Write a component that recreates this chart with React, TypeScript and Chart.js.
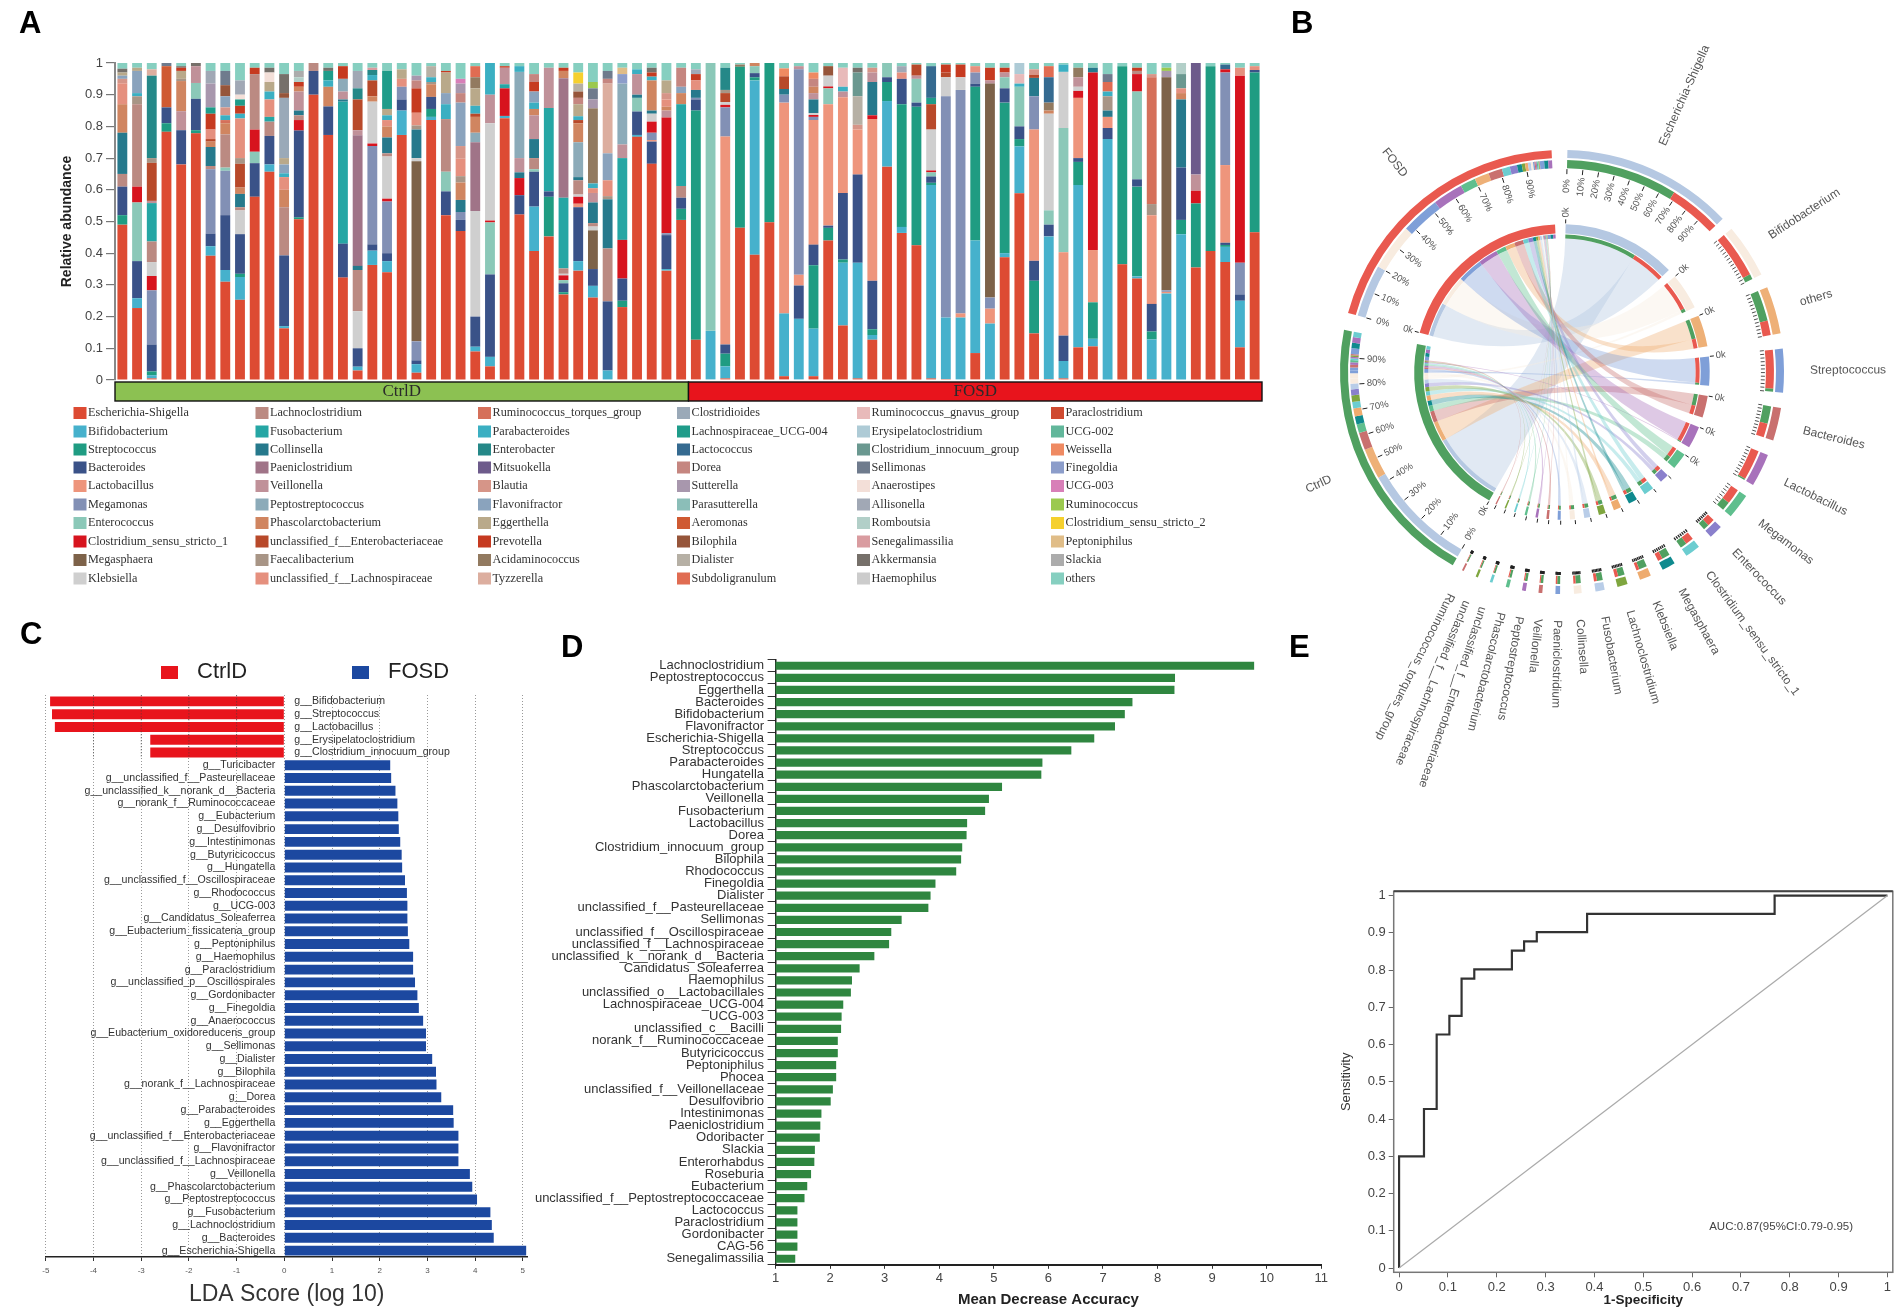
import React, { useEffect, useRef } from "react";
import { Chart, registerables } from "chart.js";
Chart.register(...registerables);
Chart.defaults.font.family = "'Liberation Sans', Arial, sans-serif";

// ---------- Panel A: taxa (legend order = stacking order) ----------
const taxaNames = ["Escherichia-Shigella","Bifidobacterium","Streptococcus","Bacteroides","Lactobacillus","Megamonas","Enterococcus","Clostridium_sensu_stricto_1","Megasphaera","Klebsiella",
"Lachnoclostridium","Fusobacterium","Collinsella","Paeniclostridium","Veillonella","Peptostreptococcus","Phascolarctobacterium","unclassified_f__Enterobacteriaceae","Faecalibacterium","unclassified_f__Lachnospiraceae",
"Ruminococcus_torques_group","Parabacteroides","Enterobacter","Mitsuokella","Blautia","Flavonifractor","Eggerthella","Prevotella","Acidaminococcus","Tyzzerella",
"Clostridioides","Lachnospiraceae_UCG-004","Lactococcus","Dorea","Sutterella","Parasutterella","Aeromonas","Bilophila","Dialister","Subdoligranulum",
"Ruminococcus_gnavus_group","Erysipelatoclostridium","Clostridium_innocuum_group","Sellimonas","Anaerostipes","Allisonella","Romboutsia","Senegalimassilia","Akkermansia","Haemophilus",
"Paraclostridium","UCG-002","Weissella","Finegoldia","UCG-003","Ruminococcus","Clostridium_sensu_stricto_2","Peptoniphilus","Slackia","others"];
const taxaColors = ["#dd4b33","#46b1cc","#1f9c82","#3a5288","#ee957c","#8290b5","#8bc8b8","#d7141e","#7d6249","#cfcfcf",
"#bb8a82","#25a6a4","#26798c","#a07488","#c09199","#8cabb9","#d08560","#b8492a","#a89586","#e5907e",
"#d5705a","#3bafc2","#258888","#6d5b8b","#d69588","#8aa3bd","#b9a98a","#c63a20","#927a60","#dcae9f",
"#9aa9b8","#1f9c8a","#356a90","#c58680","#a897ad","#8bbeb8","#cf5a32","#96553a","#b6b0a5","#e06c52",
"#e8baba","#aecbd6","#6a9890","#6f7b8d","#f3dfd8","#a1a8b5","#b2cfc8","#d99ca0","#76706a","#cccccc",
"#cf4a30","#62b79b","#ef8a62","#8c9dca","#d87fb8","#9bc94f","#f5d02e","#e0bd88","#acacac","#86cfc0"];
const E=0,Bi=1,St=2,Ba=3,La=4,Mg=5,En=6,C1=7,Mp=8,Kl=9,Lc=10,Fu=11,Co=12,Pn=13,Ve=14,Pe=15,Ph=16,Ue=17,Fa=18,Ul=19,Rt=20,Pb=21,Eb=22,Mi=23,Bl=24,Fl=25,Eg=26,Pv=27,Ac=28,Ty=29,Cd=30,L4=31,Lo=32,Do=33,Su=34,Ao=36,Bp=37,Di=38,Ss=39,Rg=40,Er=41,Ci=42,Se=43,An=44,Al=45,Ro=46,Sg=47,Ak=48,We=52,Fi=53,U3=54,Ru=55,C2=56,Pt=57,Sl=58,Ot=59;

// each sample: [taxon, upper edge of its band read off the y axis]
const s01=[[E,.49],[St,.52],[Ba,.61],[Lc,.65],[Co,.78],[Ph,.87],[Ul,.936],[Bl,.95],[Fl,.96],[Eg,.97],[Ak,.982],[Ot,1]];
const s02=[[E,.227],[Bi,.258],[Ba,.375],[En,.56],[C1,.61],[Lc,.87],[Fa,.895],[Pb,.905],[Fl,.975],[Eg,.985],[Ot,1]];
const s03=[[E,.005],[Bi,.015],[St,.027],[Ba,.112],[Mg,.283],[C1,.328],[Kl,.372],[Lc,.437],[Fu,.558],[Ve,.565],[Ue,.685],[Fa,.70],[Eb,.96],[Ty,.98],[Ot,1]];
const s04=[[E,.783],[St,.81],[Ba,.86],[Se,.87],[Ao,1]];
const s05=[[E,.68],[Ba,.788],[Fa,.795],[Ve,.855],[Ph,.95],[Pv,.96],[Eg,.985],[Ak,.99],[Ot,1]];
const s06=[[E,.778],[St,.788],[Ba,.887],[En,.937],[Ve,.99],[Ak,1]];
const s07=[[E,.392],[Bi,.422],[Ba,.462],[Lc,.472],[Mg,.675],[Co,.735],[Ph,.752],[Ue,.76],[Ul,.79],[Pv,.84],[L4,.86],[Su,.935],[Al,.975],[Ot,1]];
const s08=[[E,.31],[Bi,.347],[Ba,.52],[Mg,.66],[En,.67],[Lc,.775],[Ph,.81],[Rt,.82],[Pb,.835],[Bl,.86],[Fl,.895],[Bp,.93],[Se,.975],[Ot,1]];
const s09=[[E,.253],[Bi,.325],[St,.335],[Ba,.46],[Kl,.535],[Lc,.545],[Co,.587],[Ph,.607],[Ue,.682],[Fa,.70],[Ul,.825],[Pb,.84],[L4,.86],[Pv,.885],[An,.90],[Al,.945],[Ot,1]];
const s10=[[E,.578],[Ba,.684],[En,.72],[C1,.79],[Lc,.965],[Pv,.985],[Ot,1]];
const s11=[[E,.657],[Bi,.68],[Ba,.77],[Lc,.815],[Fu,.83],[Ul,.885],[Pb,.91],[Eg,.94],[Ak,.955],[An,.985],[Ot,1]];
const s12=[[E,.163],[Bi,.17],[Ba,.393],[Lc,.545],[Ph,.60],[Ul,.64],[Pb,.652],[Eg,.672],[Fl,.70],[Cd,.89],[Bp,.905],[Ak,.965],[Ot,1]];
const s13=[[E,.507],[St,.513],[Ba,.787],[C1,.82],[Lc,.835],[Co,.85],[Ve,.91],[Ph,.925],[Pv,.94],[Ro,.955],[Sl,.975],[Ot,1]];
const s14=[[E,.90],[Ba,.975],[Lc,1]];
const s15=[[E,.773],[Ba,.863],[Ph,.925],[Pb,.945],[L4,.975],[Ak,.985],[Ot,1]];
const s16=[[E,.323],[Ba,.43],[Co,.437],[Fu,.885],[Ve,.91],[Pe,.95],[Pv,.99],[Ot,1]];
const s17=[[E,.03],[Bi,.042],[Ba,.10],[Kl,.217],[Lc,.347],[Co,.36],[Pn,.772],[Ve,.788],[Ue,.885],[Eb,.92],[Al,.975],[Ot,1]];
const s18=[[E,.363],[Bi,.408],[Ba,.428],[Mg,.738],[C1,.746],[Kl,.878],[Ph,.895],[Ue,.945],[Pb,.962],[Eb,.978],[Sg,.985],[Ot,1]];
const s19=[[E,.34],[Bi,.375],[Ba,.40],[Mg,.563],[C1,.572],[Kl,.705],[Lc,.715],[Co,.765],[Ph,.80],[Ul,.82],[Pb,.835],[L4,.955],[Eg,.975],[Ot,1]];
const s20=[[E,.773],[Bi,.85],[Ba,.885],[Mg,.925],[Ul,.95],[Eg,.98],[Ot,1]];
const s21=[[E,.023],[Bi,.05],[Ba,.062],[Mg,.122],[Mp,.69],[Kl,.70],[Co,.79],[Fa,.803],[Ul,.843],[Pv,.92],[Do,.945],[Su,.96],[Ot,1]];
const s22=[[E,.82],[Bi,.83],[St,.855],[Ba,.893],[Fa,.90],[Ph,.94],[Pb,.955],[Di,.99],[Ot,1]];
const s23=[[E,.52],[Ba,.595],[En,.657],[Lc,.823],[Pb,.87],[Fl,.905],[Eg,.97],[Pv,.975],[Ot,1]];
const s24=[[E,.47],[Ba,.505],[Mg,.53],[Co,.568],[Fl,.705],[Ph,.76],[Fa,.78],[Ul,.835],[Do,.865],[Bl,.905],[Su,.935],[U3,.95],[Ot,1]];
const s25=[[E,.09],[Bi,.105],[Ba,.2],[Kl,.533],[Pn,.75],[Pe,.78],[Ph,.83],[Ue,.84],[Pb,.865],[Eg,.92],[Ac,.955],[Ss,.99],[Ot,1]];
const s26=[[E,.043],[Bi,.073],[Ba,.333],[En,.497],[C1,.503],[Kl,.81],[Ve,.90],[Pb,1]];
const s27=[[E,.826],[Bi,.833],[C1,.92],[Fu,.933],[Ve,.985],[Pv,.99],[Ot,1]];
const s28=[[E,.522],[Ba,.583],[C1,.637],[Co,.655],[Ve,.70],[Pe,.972],[Pb,.99],[Ot,1]];
const s29=[[E,.407],[Bi,.547],[Ba,.657],[En,.665],[Lc,.70],[Co,.76],[Ve,.835],[Ph,.855],[Pb,.875],[Fl,.91],[Pv,.94],[Do,.965],[Ot,1]];
const s30=[[E,.453],[St,.578],[Ba,.595],[Fu,.858],[Ve,.985],[Ot,1]];
const s31=[[E,.27],[St,.277],[Ba,.305],[En,.315],[C1,.33],[Kl,.335],[Lc,.352],[Fu,.575],[Pn,.952],[Ph,.975],[Pv,.985],[Ot,1]];
const s32=[[E,.345],[Bi,.375],[Ba,.545],[La,.556],[C1,.578],[Kl,.585],[Lc,.63],[Co,.64],[Pe,.75],[Ph,.81],[Ue,.82],[Pb,.832],[Eg,.87],[Do,.89],[Bp,.91],[Di,.935],[C2,.97],[Ot,1]];
const s33=[[E,.26],[Bi,.297],[Ba,.35],[Kl,.362],[Mp,.484],[Lc,.495],[Co,.56],[Ve,.59],[Ul,.605],[Pb,.62],[Ac,.857],[Su,.885],[Se,.92],[Ru,.94],[Ot,1]];
const s34=[[Bi,.03],[Ba,.248],[Lc,.415],[Co,.57],[Fa,.58],[Ul,.63],[Fl,.715],[Ty,.935],[Do,.95],[Se,.975],[Ot,1]];
const s35=[[E,.23],[St,.25],[Ba,.32],[C1,.442],[Fu,.70],[Ve,.743],[Pe,.935],[Fi,.965],[Pt,.985],[Ot,1]];
const s36=[[E,.767],[Bi,.773],[Ba,.847],[En,.89],[Co,.90],[Ve,.965],[Pb,.98],[Ot,1]];
const s37=[[E,.682],[Ba,.752],[La,.757],[Mg,.78],[C1,.815],[Kl,.84],[Co,.85],[Ph,.945],[Pb,.957],[Pv,.97],[Ak,.985],[Ot,1]];
const s38=[[E,.345],[Bi,.35],[Ba,.457],[Mg,.463],[C1,.828],[Ve,.85],[Ph,.862],[Ul,.885],[Bl,.905],[Eg,.945],[Ot,1]];
const s39=[[E,.505],[St,.54],[Ba,.575],[Lc,.612],[Fu,.87],[Ph,.905],[Fl,.925],[Do,.985],[Ot,1]];
const f01=[[E,.127],[St,.85],[Ba,.885],[Mg,.89],[Co,.915],[Ul,.945],[Pv,.965],[Al,.98],[Ot,1]];
const f02=[[Bi,.155],[En,1]];
const f03=[[E,.005],[Bi,.043],[St,.083],[Ba,.112],[La,.768],[Mg,.86],[C1,.868],[Kl,.877],[Ue,.905],[Fa,.915],[Eb,.985],[Ot,1]];
const f04=[[E,.48],[St,.988],[Ac,.995],[Ot,1]];
const f05=[[E,.395],[Bi,.945],[St,.955],[Ba,.968],[En,.99],[Ph,1]];
const f06=[[E,.498],[St,1]];
const f07=[[E,.012],[Bi,.21],[La,.875],[Mg,.90],[Co,.918],[Ue,.958],[We,.983],[Ot,1]];
const f08=[[Bi,.193],[Ba,.298],[La,.332],[Mg,.98],[Ve,.99],[Ot,1]];
const f09=[[E,.012],[Bi,.162],[St,.362],[Ba,.427],[La,.82],[Mg,.83],[C1,.836],[Kl,.842],[Co,.885],[Ve,.905],[Ph,.925],[Do,.95],[We,.97],[Ot,1]];
const f10=[[E,.44],[St,.48],[Ba,.487],[La,.87],[En,.92],[C1,.926],[Kl,.96],[Bp,.99],[Ot,1]];
const f11=[[E,.172],[Bi,.37],[St,.38],[Ba,.59],[La,.892],[Ve,.91],[Pb,.925],[Rg,.985],[Ot,1]];
const f12=[[E,.005],[Bi,.37],[Ba,.648],[La,.79],[Bl,.805],[Di,.895],[Ci,.97],[Ak,.985],[Ot,1]];
const f13=[[E,.127],[Bi,.142],[St,.16],[Ba,.313],[La,.823],[C1,.835],[Co,.94],[Ve,.97],[Bl,.985],[Ot,1]];
const f14=[[E,.673],[Bi,.88],[St,.94],[Ba,.955],[En,1]];
const f15=[[E,.464],[Bi,.483],[St,.87],[Ba,.95],[Ul,.97],[Al,.99],[Ot,1]];
const f16=[[E,.425],[St,.862],[Ba,.875],[En,.95],[Ve,.96],[Ue,.995],[Ot,1]];
const f17=[[E,.005],[Bi,.615],[St,.622],[Ba,.642],[En,.655],[C1,.661],[Kl,.79],[Ue,.87],[L4,.89],[Lo,.99],[Ot,1]];
const f18=[[E,.003],[Bi,.197],[Mg,.895],[Kl,.955],[Ue,.97],[Pv,.995],[Ot,1]];
const f19=[[Bi,.197],[La,.21],[Mg,.915],[Kl,.955],[Pv,.995],[Ot,1]];
const f20=[[E,.085],[Bi,.44],[St,.925],[Ba,.935],[Mg,.97],[Ul,.99],[Ot,1]];
const f21=[[Bi,.178],[La,.225],[Mg,.26],[Mp,.935],[Ve,.945],[Pv,.985],[Ot,1]];
const f22=[[E,.387],[Bi,.40],[St,.875],[Ba,.92],[En,.955],[Ve,.97],[Pv,.985],[Ot,1]];
const f23=[[E,.589],[Bi,.737],[St,.76],[Ba,.80],[En,.925],[Pb,.935],[Rg,.965],[Er,1]];
const f24=[[E,.147],[St,.313],[Ba,.376],[La,.79],[Mg,.895],[Co,.953],[Ue,.963],[Bl,.98],[Ot,1]];
const f25=[[E,.003],[Bi,.453],[Ba,.49],[En,.535],[Kl,.84],[Ph,.85],[Ac,.875],[Lo,.955],[Ss,.99],[Ot,1]];
const f26=[[E,.005],[Bi,.06],[Ba,.14],[La,.403],[En,.795],[Kl,.972],[Pb,.995],[Ot,1]];
const f27=[[E,.103],[Bi,.615],[St,.688],[Ba,.70],[La,.89],[C1,.912],[Kl,.925],[Ve,.955],[Ac,.985],[Ot,1]];
const f28=[[E,.106],[Bi,.13],[St,.245],[La,.41],[C1,.97],[Co,.985],[Ot,1]];
const f29=[[Bi,.76],[Ba,.795],[La,.83],[Co,.85],[Fa,.895],[Pb,.91],[Ss,.94],[Se,.965],[Ot,1]];
const f30=[[E,.365],[St,.99],[Ot,1]];
const f31=[[E,.32],[Bi,.327],[St,.61],[Ba,.633],[En,.91],[C1,.965],[Lc,.975],[Pv,.985],[Ot,1]];
const f32=[[E,.003],[Bi,.128],[St,.153],[Ba,.24],[La,.52],[Fa,.555],[Rt,.955],[Bl,.965],[Ot,1]];
const f33=[[Bi,.273],[La,.278],[Mg,.283],[Mp,.955],[Su,.975],[Ru,.985],[Ot,1]];
const f34=[[Bi,.46],[St,.505],[Ba,.67],[Co,.885],[Ph,.905],[Ul,.92],[Ci,.965],[Ro,1]];
const f35=[[E,.355],[St,.557],[C1,.597],[Ve,.648],[Mi,1]];
const f36=[[E,.407],[St,.99],[Ot,1]];
const f37=[[E,.372],[Bi,.42],[St,.426],[Ba,.433],[La,.678],[Mg,.97],[C1,.98],[Lo,.995],[Ot,1]];
const f38=[[E,.103],[Bi,.25],[Ba,.27],[Mg,.37],[C1,.96],[Ul,.985],[Ot,1]];
const f39=[[E,.466],[St,.97],[Ba,.978],[Ul,.99],[Ot,1]];
const samples=[s01,s02,s03,s04,s05,s06,s07,s08,s09,s10,s11,s12,s13,s14,s15,s16,s17,s18,s19,s20,s21,s22,s23,s24,s25,s26,s27,s28,s29,s30,s31,s32,s33,s34,s35,s36,s37,s38,s39,
f01,f02,f03,f04,f05,f06,f07,f08,f09,f10,f11,f12,f13,f14,f15,f16,f17,f18,f19,f20,f21,f22,f23,f24,f25,f26,f27,f28,f29,f30,f31,f32,f33,f34,f35,f36,f37,f38,f39];
const groupNames=["CtrlD","FOSD"];
const groupSizes=[39,39];
const groupFill=["#8cc152","#e8141c"];
const abundanceTicks=[0,.1,.2,.3,.4,.5,.6,.7,.8,.9,1];

// ---------- Panel B: chord diagram ----------
const chordGenera=["Escherichia-Shigella","Bifidobacterium","others","Streptococcus","Bacteroides","Lactobacillus","Megamonas","Enterococcus","Clostridium_sensu_stricto_1","Megasphaera","Klebsiella","Lachnoclostridium","Fusobacterium","Collinsella","Paeniclostridium","Veillonella","Peptostreptococcus","Phascolarctobacterium","unclassified_f__Enterobacteriaceae","unclassified_f__Lachnospiraceae","Ruminococcus_torques_group"];
const chordColors=["#b5c8e2","#f8ece0","#eeb077","#7f9fd8","#c9706f","#a872bb","#5fbf8e","#8a80cc","#6ccdd0","#0f8a8e","#eeab6e","#7fa63f","#b9cde8","#f8ece0","#7f9fd8","#c9706f","#a872bb","#5fbf8e","#6ccdd0","#7fa63f","#c9706f"];
const chordCtrl=[30.6,1.4,8.4,.8,4.8,.4,2.4,1.6,1.8,2.2,2.2,1.8,1.6,1.4,.8,.7,.7,.6,.5,.4,.35];
const chordFosd=[14.4,12.8,4,10.6,3.8,8.3,4.2,2,2.2,1.3,.8,.9,.8,.6,.4,.3,.3,.3,.2,.2,.15];
const chordCtrlRest=[1.6,1.5,1.5,1.45];
const chordFosdRest=[1.2,1.1,1.05];
const chordRestColors=["#7f9fd8","#0f8a8e","#a872bb","#6ccdd0"];
const chordGaps=[3.4,3.6,4,4,4,3.3,3.8,4,3.6,3.4,3.4,3.4,3.6,3.6,3.4,3.3,3.4,3.6,3.3,3.4,2.7,4.5,4.1];
const groupRingColors=["#50a060","#e9594f"];
const chordGroups=["CtrlD","FOSD"];
const percentTicks=["0%","10%","20%","30%","40%","50%","60%","70%","80%","90%"];

// ---------- Panel C: LDA ----------
const ldaLabels=["g__Bifidobacterium","g__Streptococcus","g__Lactobacillus","g__Erysipelatoclostridium","g__Clostridium_innocuum_group","g__Turicibacter","g__unclassified_f__Pasteurellaceae","g__unclassified_k__norank_d__Bacteria","g__norank_f__Ruminococcaceae","g__Eubacterium","g__Desulfovibrio","g__Intestinimonas","g__Butyricicoccus","g__Hungatella","g__unclassified_f__Oscillospiraceae","g__Rhodococcus","g__UCG-003","g__Candidatus_Soleaferrea","g__Eubacterium_fissicatena_group","g__Peptoniphilus","g__Haemophilus","g__Paraclostridium","g__unclassified_p__Oscillospirales","g__Gordonibacter","g__Finegoldia","g__Anaerococcus","g__Eubacterium_oxidoreducens_group","g__Sellimonas","g__Dialister","g__Bilophila","g__norank_f__Lachnospiraceae","g__Dorea","g__Parabacteroides","g__Eggerthella","g__unclassified_f__Enterobacteriaceae","g__Flavonifractor","g__unclassified_f__Lachnospiraceae","g__Veillonella","g__Phascolarctobacterium","g__Peptostreptococcus","g__Fusobacterium","g__Lachnoclostridium","g__Bacteroides","g__Escherichia-Shigella"];
const ldaCtrl=[-4.91,-4.87,-4.81,-2.81,-2.81];
const ldaFosd=[2.22,2.24,2.33,2.37,2.39,2.40,2.43,2.46,2.47,2.53,2.57,2.58,2.58,2.59,2.62,2.70,2.70,2.74,2.79,2.82,2.91,2.97,2.97,3.10,3.18,3.19,3.29,3.54,3.55,3.65,3.65,3.65,3.89,3.94,4.04,4.32,4.35,4.39,5.07];

// ---------- Panel D: random forest ----------
const mdaLabels=["Lachnoclostridium","Peptostreptococcus","Eggerthella","Bacteroides","Bifidobacterium","Flavonifractor","Escherichia-Shigella","Streptococcus","Parabacteroides","Hungatella","Phascolarctobacterium","Veillonella","Fusobacterium","Lactobacillus","Dorea","Clostridium_innocuum_group","Bilophila","Rhodococcus","Finegoldia","Dialister","unclassified_f__Pasteurellaceae","Sellimonas","unclassified_f__Oscillospiraceae","unclassified_f__Lachnospiraceae","unclassified_k__norank_d__Bacteria","Candidatus_Soleaferrea","Haemophilus","unclassified_o__Lactobacillales","Lachnospiraceae_UCG-004","UCG-003","unclassified_c__Bacilli","norank_f__Ruminococcaceae","Butyricicoccus","Peptoniphilus","Phocea","unclassified_f__Veillonellaceae","Desulfovibrio","Intestinimonas","Paeniclostridium","Odoribacter","Slackia","Enterorhabdus","Roseburia","Eubacterium","unclassified_f__Peptostreptococcaceae","Lactococcus","Paraclostridium","Gordonibacter","CAG-56","Senegalimassilia"];
const mdaValues=[9.77,8.32,8.31,7.54,7.40,7.22,6.84,6.42,5.89,5.87,5.15,4.91,4.84,4.51,4.50,4.42,4.40,4.31,3.93,3.84,3.80,3.31,3.12,3.08,2.81,2.54,2.40,2.38,2.24,2.21,2.20,2.14,2.14,2.11,2.11,2.05,2.01,1.84,1.82,1.81,1.72,1.71,1.65,1.58,1.53,1.40,1.40,1.40,1.40,1.36];

// ---------- Panel E: ROC ----------
const rocFpr=[0,0,.051,.051,.077,.077,.103,.103,.128,.128,.154,.154,.231,.231,.256,.256,.282,.282,.385,.385,.769,.769,1];
const rocTpr=[0,.3,.3,.427,.427,.627,.627,.677,.677,.777,.777,.802,.802,.852,.852,.877,.877,.902,.902,.951,.951,1,1];
const rocTicks=[0,.1,.2,.3,.4,.5,.6,.7,.8,.9,1];
const aucText="AUC:0.87(95%CI:0.79-0.95)";

// ---------- Layout helper ----------
const fmtTick=(v:number)=>(v===0||v===1?String(v):v.toFixed(1));
const setWidth=(w:number)=>(s:any)=>{s.width=w;};
const setHeight=(h:number)=>(s:any)=>{s.height=h;};
const base={responsive:false,animation:false as const,devicePixelRatio:1,events:[] as any[]};
const noLegend={legend:{display:false},tooltip:{enabled:false}};

// Panel A
const legendCols=[73.5,255.5,478,677,857,1051];
const legendRows=[413,431.5,449.5,467.5,486,504.5,523,541.5,560,578.5];
const panelAPlugin={id:"panelA",afterDraw(chart:any){
  const {ctx,scales}=chart; const x=scales.x; const band=x.width/samples.length;
  ctx.save();
  let from=0;
  groupNames.forEach((g,i)=>{
    const x0=x.left+from*band, w=groupSizes[i]*band;
    ctx.fillStyle=groupFill[i]; ctx.fillRect(x0,382,w,19);
    ctx.strokeStyle="#111"; ctx.lineWidth=1.4; ctx.strokeRect(x0,382,w,19);
    ctx.fillStyle="#2a2a2a"; ctx.font="17px 'Liberation Serif', serif"; ctx.textAlign="center"; ctx.textBaseline="middle";
    ctx.fillText(g,x0+w/2,391.5);
    from+=groupSizes[i];
  });
  ctx.textAlign="left"; ctx.font="12.2px 'Liberation Serif', serif";
  chart.data.datasets.forEach((d:any,i:number)=>{
    const c=Math.floor(i/10), r=i%10;
    ctx.fillStyle=d.backgroundColor; ctx.fillRect(legendCols[c],legendRows[r]-6,13,12);
    ctx.fillStyle="#333"; ctx.fillText(d.label,legendCols[c]+14.5,legendRows[r]);
  });
  ctx.restore();
}};
const thickness=(sample:any[],t:number)=>{
  let prev=0;
  for(const [k,top] of sample){ if(k===t) return top-prev; prev=top; }
  return 0;
};
const configA=()=>({type:"bar",data:{labels:samples.map((_,i)=>String(i+1)),datasets:taxaNames.map((n,t)=>({label:n,data:samples.map(s=>thickness(s,t)),backgroundColor:taxaColors[t],borderWidth:0,barPercentage:.67,categoryPercentage:1}))},
  options:{...base,layout:{padding:{left:59,right:28,top:63,bottom:230}},plugins:noLegend,
    scales:{x:{stacked:true,display:false},
      y:{stacked:true,min:0,max:1,afterFit:setWidth(56),afterBuildTicks:(s:any)=>{s.ticks=abundanceTicks.map(value=>({value}));},
        title:{display:true,text:"Relative abundance",font:{size:14,weight:"bold"},color:"#222",padding:0},
        border:{display:true,color:"#888",width:2},grid:{drawOnChartArea:false,tickLength:9,color:"#777",lineWidth:1.2},
        ticks:{padding:3,color:"#444",font:{size:13},callback:fmtTick}}}},plugins:[panelAPlugin]});

// Panel B
const chordData=()=>{
  const band:number[]=[],bandC:string[]=[],stack:number[]=[],stackC:string[]=[];
  const bandIdx:number[]=[]; const slot:number[][]=chordGenera.map(()=>[0,0]);
  const order=[0,1,2,3,4,5,6,7,8,9,10,11,12,13,14,15,16,17,18,19,20];
  const gap=(i:number)=>{band.push(chordGaps[i]);bandC.push("rgba(0,0,0,0)");stack.push(chordGaps[i]);stackC.push("rgba(0,0,0,0)");};
  order.forEach(i=>{
    const c=chordCtrl[i],f=chordFosd[i];
    bandIdx.push(band.length); band.push(c+f); bandC.push(chordColors[i]);
    const pieces=c>=f?[[0,c],[1,f]]:[[1,f],[0,c]];
    pieces.forEach(([g,v])=>{slot[i][g]=stack.length;stack.push(v);stackC.push(groupRingColors[g]);});
    gap(i);
  });
  [chordCtrl,chordFosd].forEach((vals,g)=>{
    const rest=g===0?chordCtrlRest:chordFosdRest;
    bandIdx.push(band.length);
    band.push(vals.reduce((a,b)=>a+b,0)+rest.reduce((a,b)=>a+b,0)); bandC.push(groupRingColors[g]);
    const sorted=order.slice().sort((a,b)=>vals[b]-vals[a]);
    const groupSlot:number[]=[];
    sorted.forEach(i=>{groupSlot[i]=stack.length;stack.push(vals[i]);stackC.push(chordColors[i]);});
    rest.forEach((v,k)=>{stack.push(v);stackC.push(chordRestColors[k]);});
    (slot as any)["g"+g]=groupSlot;
    gap(21+g);
  });
  return {band,bandC,stack,stackC,bandIdx,slot};
};
const cd=chordData();
const ring=(data:number[],colors:string[],weight:number)=>({data,backgroundColor:colors,weight,borderWidth:0});
const spacer=(weight:number)=>({data:[1],backgroundColor:["rgba(0,0,0,0)"],weight,borderWidth:0});
const chordPlugin={id:"chord",
  beforeDatasetsDraw(chart:any){
    const {ctx}=chart; const inner=chart.getDatasetMeta(6).data;
    const first=inner[0]; const cx=first.x,cy=first.y,r=first.innerRadius;
    ctx.save();
    [0,1].forEach(g=>{
      chordGenera.forEach((_,i)=>{
        const a=inner[(cd.slot as any)["g"+g][i]], b=inner[cd.slot[i][g]];
        ctx.beginPath();
        ctx.arc(cx,cy,r,a.startAngle,a.endAngle);
        ctx.quadraticCurveTo(cx,cy,cx+r*Math.cos(b.startAngle),cy+r*Math.sin(b.startAngle));
        ctx.arc(cx,cy,r,b.startAngle,b.endAngle);
        ctx.quadraticCurveTo(cx,cy,cx+r*Math.cos(a.startAngle),cy+r*Math.sin(a.startAngle));
        ctx.closePath();
        ctx.globalAlpha=i===0?.4:.38;
        ctx.fillStyle=chordColors[i];
        ctx.fill();
      });
    });
    ctx.restore();
  },
  afterDatasetsDraw(chart:any){
    const {ctx}=chart; const outer=chart.getDatasetMeta(0).data; const cx=outer[0].x,cy=outer[0].y;
    const tickR=chart.getDatasetMeta(2).data[0].innerRadius;
    const innerR=chart.getDatasetMeta(4).data[0].outerRadius;
    const pol=(a:number,r:number)=>[cx+r*Math.cos(a),cy+r*Math.sin(a)];
    const radialText=(t:string,a:number,r:number,font:string,color:string,align:string,flip:boolean)=>{
      const [x,y]=pol(a,r);
      ctx.save(); ctx.translate(x,y); ctx.rotate(flip?a+Math.PI:a);
      ctx.font=font; ctx.fillStyle=color; ctx.textAlign=align; ctx.textBaseline="middle";
      ctx.fillText(t,0,0); ctx.restore();
    };
    ctx.save();
    const all=[...chordGenera,...chordGroups];
    all.forEach((name,i)=>{
      const e=outer[cd.bandIdx[i]]; const s=e.startAngle,t=e.endAngle,m=(s+t)/2;
      const isGroup=i>=chordGenera.length;
      if(isGroup) radialText(name,m,268,"12px 'Liberation Sans'","#555","center",true);
      else radialText(name,m,248,"12px 'Liberation Sans'","#555","left",false);
      const withPercent=i===0||isGroup;
      ctx.strokeStyle="#222";
      if(withPercent){
        percentTicks.forEach((lab,k)=>{
          const a=s+(t-s)*k/10;
          const [x0,y0]=pol(a,tickR-1),[x1,y1]=pol(a,tickR-6);
          ctx.lineWidth=1; ctx.beginPath(); ctx.moveTo(x0,y0); ctx.lineTo(x1,y1); ctx.stroke();
          const c=Math.cos(a);
          radialText(lab,a,tickR-18,"9.5px 'Liberation Sans'","#555","center",c<0);
        });
      } else {
        const n=i<7?Math.round((t-s)*57.3):6;
        for(let k=0;k<=n;k++){
          const a=s+(t-s)*k/n;
          const [x0,y0]=pol(a,tickR-1),[x1,y1]=pol(a,tickR-(i<7?5:4));
          ctx.lineWidth=i<7?.8:1.3; ctx.beginPath(); ctx.moveTo(x0,y0); ctx.lineTo(x1,y1); ctx.stroke();
        }
      }
      const [ix0,iy0]=pol(s,innerR+1),[ix1,iy1]=pol(s,innerR+5);
      ctx.lineWidth=1; ctx.beginPath(); ctx.moveTo(ix0,iy0); ctx.lineTo(ix1,iy1); ctx.stroke();
      if(i<7||isGroup){ const c=Math.cos(s); radialText("0k",s,innerR+12,"9.5px 'Liberation Sans'","#555","center",c<0); }
    });
    ctx.restore();
  }};
const configB=()=>({type:"doughnut",data:{datasets:[ring(cd.band,cd.bandC,8),spacer(2),ring(cd.stack,cd.stackC,8),spacer(56),ring(cd.band,cd.bandC,9),spacer(1),ring(cd.stack,cd.stackC,4)]},
  options:{...base,rotation:1.4,cutout:"60.2%",layout:{padding:{left:78,right:117,top:150,bottom:206}},plugins:noLegend},plugins:[chordPlugin]});

// Panel C
const panelCPlugin={id:"panelC",afterDatasetsDraw(chart:any){
  const {ctx,scales}=chart; const x=scales.x,y=scales.y; const zero=x.getPixelForValue(0);
  ctx.save();
  // dotted grid shows through the red rows
  ctx.strokeStyle="rgba(60,60,60,.75)"; ctx.setLineDash([1,2]); ctx.lineWidth=1;
  [-4,-3,-2,-1].forEach(v=>{
    const px=x.getPixelForValue(v);
    ctx.beginPath(); ctx.moveTo(px,y.getPixelForValue(0)-6); ctx.lineTo(px,y.getPixelForValue(ldaCtrl.length-1)+6); ctx.stroke();
  });
  ctx.setLineDash([]);
  ctx.font="10.6px 'Liberation Sans'"; ctx.fillStyle="#333"; ctx.textBaseline="middle";
  chart.data.labels.forEach((lab:string,i:number)=>{
    const py=y.getPixelForValue(i);
    if(i<ldaCtrl.length){ctx.textAlign="left";ctx.fillText(lab,zero+10,py);}
    else {ctx.textAlign="right";ctx.fillText(lab,zero-9,py);}
  });
  const lx=[161,352];
  chart.data.datasets.forEach((d:any,i:number)=>{
    ctx.fillStyle=d.backgroundColor; ctx.fillRect(lx[i],16,17,13);
    ctx.fillStyle="#222"; ctx.font="22px 'Liberation Sans'"; ctx.textAlign="left"; ctx.fillText(d.label,lx[i]+36,22);
  });
  ctx.restore();
}};
const configC=()=>({type:"bar",data:{labels:ldaLabels,datasets:[
    {label:groupNames[0],data:ldaLabels.map((_,i)=>i<ldaCtrl.length?ldaCtrl[i]:null),backgroundColor:"#e8141c",barPercentage:.78,categoryPercentage:1},
    {label:groupNames[1],data:ldaLabels.map((_,i)=>i<ldaCtrl.length?null:ldaFosd[i-ldaCtrl.length]),backgroundColor:"#1c48a0",barPercentage:.78,categoryPercentage:1}]},
  options:{...base,indexAxis:"y",layout:{padding:{left:45.8,right:12.4,top:45,bottom:7}},plugins:noLegend,
    scales:{y:{stacked:true,display:false},
      x:{stacked:false,min:-5,max:5.1,afterFit:setHeight(51),afterBuildTicks:(s:any)=>{s.ticks=[-5,-4,-3,-2,-1,0,1,2,3,4,5].map(value=>({value}));},
        title:{display:true,text:"LDA Score (log 10)",font:{size:23},color:"#333",padding:0},
        border:{display:true,color:"#222",width:1.5,dash:[1,2]},grid:{color:"#999",lineWidth:1,tickLength:4,tickColor:"#333",tickBorderDash:[]},
        ticks:{padding:5,color:"#555",font:{size:8}}}}},plugins:[panelCPlugin]});

// Panel D
const configD=()=>({type:"bar",data:{labels:mdaLabels,datasets:[{data:mdaValues,backgroundColor:"#2f8640",barPercentage:.68,categoryPercentage:1}]},
  options:{...base,indexAxis:"y",layout:{padding:{left:0,right:8.4,top:19.7,bottom:6}},plugins:noLegend,
    scales:{y:{afterFit:setWidth(240.6),border:{display:true,color:"#222",width:1.5},grid:{drawOnChartArea:false,tickLength:8,color:"#333"},
        ticks:{autoSkip:false,padding:3.6,color:"#333",font:{size:13}}},
      x:{min:1,max:11,afterFit:setHeight(44.2),title:{display:true,text:"Mean Decrease Accuracy",font:{size:15,weight:"bold"},color:"#222",padding:0},
        border:{display:true,color:"#222",width:2},grid:{drawOnChartArea:false,tickLength:4,color:"#333"},
        ticks:{stepSize:1,padding:2,color:"#444",font:{size:13}}}}}});

// Panel E
const framePlugin={id:"frame",afterDraw(chart:any){
  const {ctx,chartArea:a}=chart;
  ctx.save(); ctx.strokeStyle="#777"; ctx.lineWidth=1.5; ctx.strokeRect(a.left,a.top,a.right-a.left,a.bottom-a.top);
  ctx.strokeStyle="#444"; ctx.lineWidth=2; ctx.beginPath(); ctx.moveTo(a.left,a.top); ctx.lineTo(a.right,a.top); ctx.stroke();
  ctx.fillStyle="#444"; ctx.font="11.5px 'Liberation Sans'"; ctx.textBaseline="middle"; ctx.textAlign="left";
  ctx.fillText(aucText,chart.scales.x.getPixelForValue(.635),chart.scales.y.getPixelForValue(.11));
  ctx.restore();
}};
const configE=()=>({type:"scatter",data:{datasets:[
    {data:[{x:0,y:0},{x:1,y:1}],showLine:true,borderColor:"#aaa",borderWidth:1.2,pointRadius:0},
    {data:rocFpr.map((x,i)=>({x,y:rocTpr[i]})),showLine:true,borderColor:"#333",borderWidth:2.2,pointRadius:0}]},
  options:{...base,layout:{padding:{left:18.9,right:8.2,top:21.3,bottom:6.2}},plugins:noLegend,
    scales:{x:{type:"linear",min:-.011,max:1.011,afterFit:setHeight(36.5),afterBuildTicks:(s:any)=>{s.ticks=rocTicks.map(value=>({value}));},
        title:{display:true,text:"1-Specificity",font:{size:13.5,weight:"bold"},color:"#222",padding:0},
        border:{display:false},grid:{drawOnChartArea:false,tickLength:5,color:"#666"},ticks:{padding:2,color:"#444",font:{size:13},callback:fmtTick}},
      y:{type:"linear",min:-.0115,max:1.0115,afterFit:setWidth(54.8),afterBuildTicks:(s:any)=>{s.ticks=rocTicks.map(value=>({value}));},
        title:{display:true,text:"Sensitivity",font:{size:13},color:"#333",padding:0},
        border:{display:false},grid:{drawOnChartArea:false,tickLength:5,color:"#666"},ticks:{padding:3,color:"#444",font:{size:13},callback:fmtTick}}}},plugins:[framePlugin]});

function Panel({config,left,top,width,height}:any){
  const ref=useRef<HTMLCanvasElement>(null);
  useEffect(()=>{
    const chart=new Chart(ref.current as any,config());
    return ()=>chart.destroy();
  },[]);
  return <canvas ref={ref} width={width} height={height} style={{position:"absolute",left,top,width,height}}/>;
}
const letters=[["A",19,5],["B",1291,5],["C",20,616],["D",561,629],["E",1289,629]] as const;

export default function App(){
  return <div style={{position:"absolute",left:0,top:0,width:1901,height:1315,overflow:"hidden",background:"#fff"}}>
    <Panel config={configA} left={0} top={0} width={1290} height={610}/>
    <Panel config={configB} left={1262} top={0} width={639} height={800}/>
    <Panel config={configC} left={0} top={650} width={540} height={665}/>
    <Panel config={configD} left={535} top={640} width={795} height={675}/>
    <Panel config={configE} left={1320} top={870} width={581} height={445}/>
    {letters.map(([t,x,y])=><div key={t} style={{position:"absolute",left:x,top:y,fontFamily:"'Liberation Sans',sans-serif",fontWeight:700,fontSize:31,lineHeight:"36px",color:"#000"}}>{t}</div>)}
  </div>;
}
